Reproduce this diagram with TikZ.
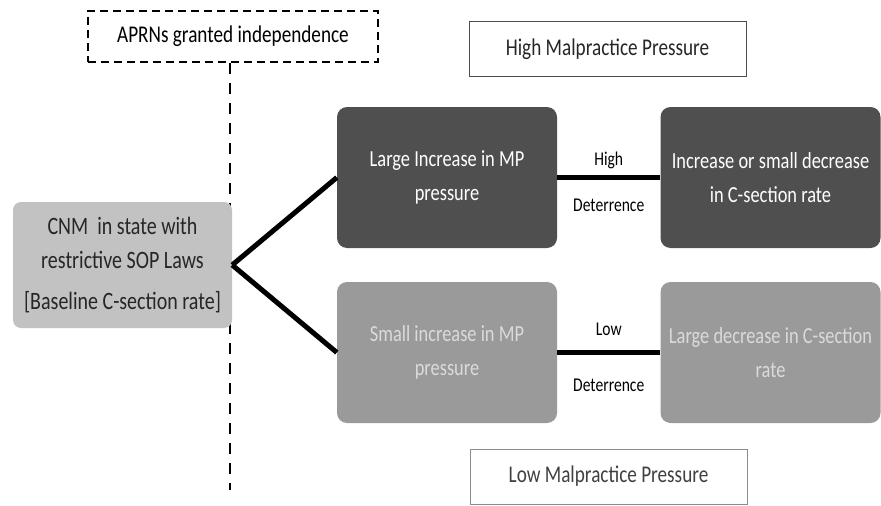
\documentclass[tikz,border=0pt]{standalone}
\usepackage{fontspec}
\setmainfont{Carlito}[FakeStretch=0.8]
\definecolor{darkbox}{HTML}{4F4F4F}
\definecolor{midbox}{HTML}{9A9A9A}
\definecolor{lightbox}{HTML}{C2C2C2}
\definecolor{lowtext}{HTML}{DADADA}
\begin{document}
\begin{tikzpicture}[x=1pt,y=-1pt,
  every node/.style={inner sep=0pt, align=center},
  txt/.style={font=\fontsize{23}{34}\selectfont},
  smalltxt/.style={font=\fontsize{19.5}{24}\selectfont},
  framebox/.style={draw=black!70, line width=0.8pt, minimum width=277pt, minimum height=55pt, font=\fontsize{24}{30}\selectfont, text=black!85},
  outcome/.style={rounded corners=10pt, minimum width=220pt, minimum height=141pt, txt},
  hi/.style={outcome, fill=darkbox, text=white},
  lo/.style={outcome, fill=midbox, text=lowtext},
  link/.style={line width=5pt, black},
  sep/.style={line width=1.8pt, dash pattern=on 11pt off 9pt}
]
\useasboundingbox (0,0) rectangle (881,506);

\node[draw, line width=1.8pt, dash pattern=on 8pt off 5pt, minimum width=290pt, minimum height=51pt, font=\fontsize{24}{30}\selectfont] (aprn) at (233,36.5) {APRNs granted independence};
\coordinate (vend) at (230,490);
\draw[sep] (vend |- aprn.south) -- (vend);

\node[framebox] (highmp) at (607.5,49) {High Malpractice Pressure};
\node[framebox, draw=black!45, text=black!75] (lowmp) at (608.5,476.5) {Low Malpractice Pressure};

\node[rounded corners=8pt, fill=lightbox, minimum width=219pt, minimum height=126pt, text=black!85, font=\fontsize{25}{34}\selectfont] (cnm) at (122.5,265)
  {CNM \ in state with\\restrictive SOP Laws\\[7pt]{[}Baseline C-section rate{]}};

\node[hi] (b1) at (447,177.5) {Large Increase in MP\\pressure};
\node[hi] (b2) at (770.5,177.5) {Increase or small decrease\\in C-section rate};
\node[lo] (b3) at (447,352.5) {Small increase in MP\\pressure};
\node[lo] (b4) at (770.5,352.5) {Large decrease in C-section\\rate};

\draw[link] (cnm.east) -- (b1.west);
\draw[link] (cnm.east) -- (b3.west);

\draw[link] (b1.east) -- node[smalltxt, above=6pt]{High} node[smalltxt, below=19pt]{Deterrence} (b2.west);
\draw[link] (b3.east) -- node[smalltxt, above=14pt]{Low} node[smalltxt, below=24pt]{Deterrence} (b4.west);
\end{tikzpicture}
\end{document}
